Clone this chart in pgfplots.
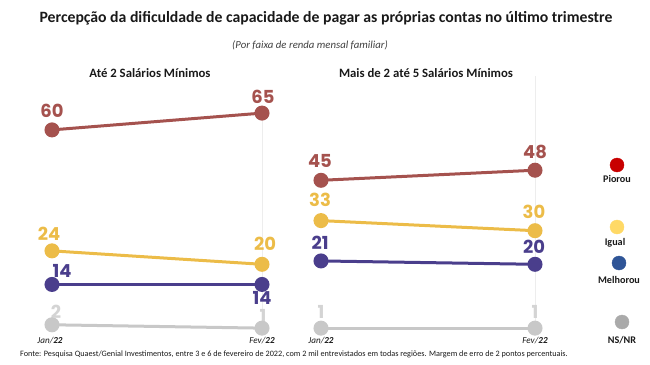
\documentclass[border=0pt]{standalone}
\usepackage{pgfplots}
\pgfplotsset{compat=1.18}
\usepackage{fontspec}
\setmainfont{Carlito}
\newfontfamily\numfont{Poppins}
\definecolor{piorou}{RGB}{165,82,78}
\definecolor{igual}{RGB}{236,188,72}
\definecolor{melhorou}{RGB}{74,62,140}
\definecolor{nsnr}{RGB}{200,200,200}
\definecolor{nsnrlab}{RGB}{212,212,212}
\definecolor{legred}{RGB}{200,0,0}
\definecolor{legyel}{RGB}{255,217,102}
\definecolor{legblue}{RGB}{47,85,151}
\definecolor{leggray}{RGB}{170,170,170}
\definecolor{textdark}{RGB}{25,25,25}
\tikzset{
  lab/.style={font=\numfont\bfseries\fontsize{18}{20}\selectfont, inner sep=0},
  tlab/.style={font=\itshape\fontsize{9.2}{10}\selectfont, text=textdark, yshift=-9bp},
  leglab/.style={font=\bfseries\fontsize{10.2}{12}\selectfont, text=textdark}
}
\pgfplotsset{
  panel/.style={hide axis, clip=false, scale only axis, height=235.2bp,
    xmin=0, xmax=1, ymin=0, ymax=70, enlargelimits=false, anchor=south west},
  ser/.style={color=#1, line width=3bp, mark=*, mark size=6bp, mark options={solid}}
}
\begin{document}
\begin{tikzpicture}
\useasboundingbox (0,0) rectangle (650bp,365bp);
\node[font=\bfseries\fontsize{15.8}{18}\selectfont, text=textdark] at (326bp,347bp) {Percepção da dificuldade de capacidade de pagar as próprias contas no último trimestre};
\node[font=\itshape\fontsize{10.8}{12}\selectfont, text=black!75] at (310bp,320bp) {(Por faixa de renda mensal familiar)};
\node[font=\bfseries\fontsize{12.8}{14}\selectfont, text=textdark] at (150bp,292bp) {Até 2 Salários Mínimos};
\node[font=\bfseries\fontsize{12.8}{14}\selectfont, text=textdark] at (426bp,292bp) {Mais de 2 até 5 Salários Mínimos};
\node[anchor=west, font=\fontsize{8.25}{9}\selectfont, text=textdark, inner sep=0] at (20bp,11bp) {Fonte: Pesquisa Quaest/Genial Investimentos, entre 3 e 6 de fevereiro de 2022, com 2 mil entrevistados em todas regiões. Margem de erro de 2 pontos percentuais.};

\begin{axis}[panel, at={(52bp,33.5bp)}, width=210bp]
\draw[black!7, line width=1bp] (axis cs:1,1) -- (axis cs:1,64);
\addplot[ser=nsnr] coordinates {(0,2) (1,1)};
\addplot[ser=melhorou] coordinates {(0,14) (1,14)};
\addplot[ser=igual] coordinates {(0,24) (1,20)};
\addplot[ser=piorou] coordinates {(0,60) (1,65)};
\node[lab, text=piorou] at (axis cs:0,60) [yshift=19bp] {60};
\node[lab, text=piorou] at (axis cs:1,65) [xshift=1bp, yshift=16bp] {65};
\node[lab, text=igual] at (axis cs:0,24) [xshift=-3bp, yshift=17bp] {24};
\node[lab, text=igual] at (axis cs:1,20) [xshift=3bp, yshift=20bp] {20};
\node[lab, text=melhorou] at (axis cs:0,14) [xshift=10bp, yshift=14bp] {14};
\node[lab, text=melhorou] at (axis cs:1,14) [yshift=-13bp] {14};
\node[lab, text=nsnrlab] at (axis cs:0,2) [xshift=4bp, yshift=13bp] {2};
\node[lab, text=nsnrlab] at (axis cs:1,1) [xshift=1bp, yshift=12bp] {1};
\node[tlab] at (axis cs:0,0) [xshift=-2bp] {Jan/\textbf{22}};
\node[tlab] at (axis cs:1,0) {Fev/\textbf{22}};
\end{axis}

\begin{axis}[panel, at={(321bp,33.5bp)}, width=214bp]
\draw[black!7, line width=1bp] (axis cs:1,1) -- (axis cs:1,76);
\addplot[ser=nsnr] coordinates {(0,1) (1,1)};
\addplot[ser=melhorou] coordinates {(0,21) (1,20)};
\addplot[ser=igual] coordinates {(0,33) (1,30)};
\addplot[ser=piorou] coordinates {(0,45) (1,48)};
\node[lab, text=piorou] at (axis cs:0,45) [xshift=-1bp, yshift=19bp] {45};
\node[lab, text=piorou] at (axis cs:1,48) [yshift=18bp] {48};
\node[lab, text=igual] at (axis cs:0,33) [xshift=-1bp, yshift=21bp] {33};
\node[lab, text=igual] at (axis cs:1,30) [xshift=-1bp, yshift=19bp] {30};
\node[lab, text=melhorou] at (axis cs:0,21) [xshift=-1bp, yshift=18bp] {21};
\node[lab, text=melhorou] at (axis cs:1,20) [xshift=-1bp, yshift=17bp] {20};
\node[lab, text=nsnrlab] at (axis cs:0,1) [yshift=16bp] {1};
\node[lab, text=nsnrlab] at (axis cs:1,1) [yshift=16bp] {1};
\node[tlab] at (axis cs:0,0) {Jan/\textbf{22}};
\node[tlab] at (axis cs:1,0) {Fev/\textbf{22}};
\end{axis}

\begin{axis}[hide axis, clip=false, scale only axis, anchor=south west, at={(590bp,0bp)},
  width=60bp, height=365bp, xmin=590, xmax=650, ymin=0, ymax=365, y dir=reverse, enlargelimits=false]
\addplot[only marks, mark=*, mark size=7bp, color=legred] coordinates {(617,165)};
\addplot[only marks, mark=*, mark size=7bp, color=legyel] coordinates {(617,227)};
\addplot[only marks, mark=*, mark size=7bp, color=legblue] coordinates {(619,263)};
\addplot[only marks, mark=*, mark size=7bp, color=leggray] coordinates {(622,322)};
\node[leglab] at (axis cs:617,179) {Piorou};
\node[leglab] at (axis cs:615,243) {Igual};
\node[leglab] at (axis cs:619,280) {Melhorou};
\node[leglab] at (axis cs:622,340) {NS/NR};
\end{axis}
\end{tikzpicture}
\end{document}
